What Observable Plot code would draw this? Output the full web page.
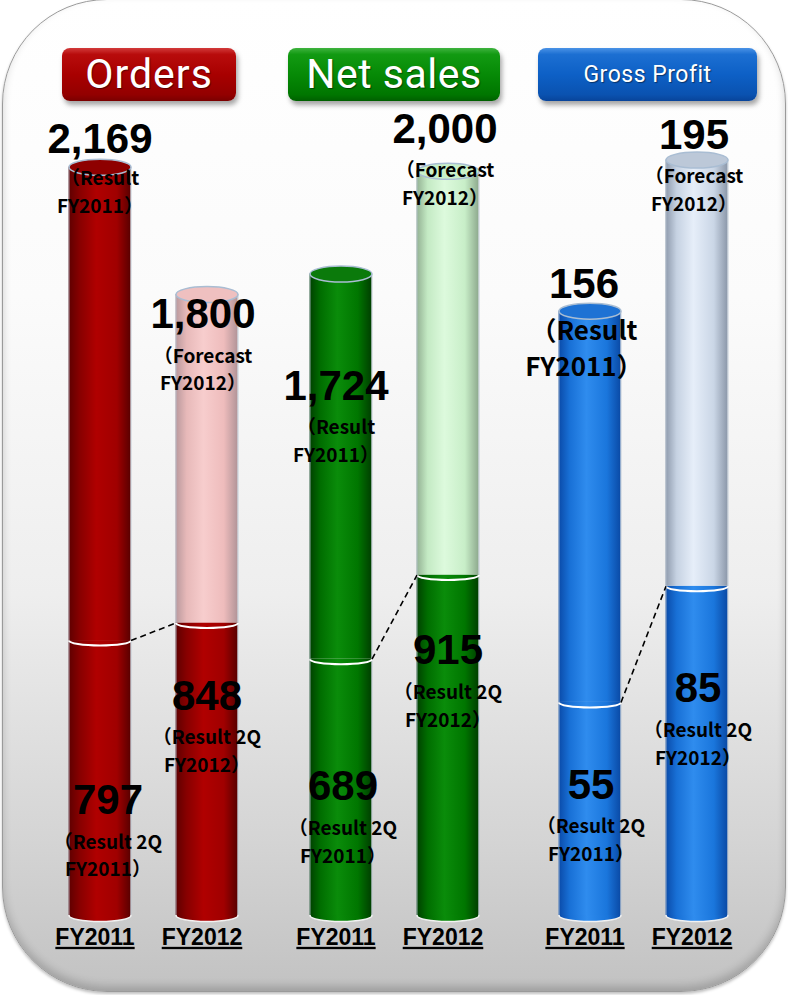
<!DOCTYPE html>
<html>
<head>
<meta charset="utf-8">
<script src="https://cdn.jsdelivr.net/npm/d3@7"></script>
<script src="https://cdn.jsdelivr.net/npm/@observablehq/plot@0.6"></script>
<style>
  html, body { margin: 0; padding: 0; background: #ffffff; }
  #root { position: relative; width: 788px; height: 995px; overflow: hidden; background: #fff; }
  #bg { position: absolute; left: 2px; top: -1px; width: 782px; height: 991px; border-radius: 105px;
        border: 1px solid #9a9a9a;
        background: linear-gradient(to bottom, #ffffff 0%, #fbfbfb 30%, #eeeeee 60%, #d4d4d4 85%, #c2c2c2 100%);
        box-shadow: inset 0 -5px 9px rgba(0,0,0,0.18), 0 2px 3px rgba(0,0,0,0.25); }
  .btn { position: absolute; top: 48px; height: 53px; border-radius: 8px; color: #fff; text-align: center;
         line-height: 53px; box-shadow: 2px 4px 5px rgba(0,0,0,0.35);
         font-family: Roboto, "Liberation Sans Narrow", sans-serif;
         text-shadow: 1px 1px 1px rgba(0,0,0,0.45); }
  .plot { position: absolute; top: 0; }
  svg text { text-spacing-trim: space-all; }
</style>
</head>
<body>
<div id="root">
  <div id="bg"></div>
</div>
<script>
// ---------- data ----------
const panels = ["Orders", "Net sales", "Gross Profit"];
const years = ["FY2011", "FY2012"];
const ordersFull = [2169, 1800];
const ordersHalf = [797, 848];
const salesFull = [1724, 2000];
const salesHalf = [689, 915];
const profitFull = [156, 195];
const profitHalf = [55, 85];
const isForecast = [false, true];
const fullNotes = ["（Result\nFY2011）", "（Forecast\nFY2012）"];
const halfNotes = ["（Result 2Q\nFY2011）", "（Result 2Q\nFY2012）"];

// ---------- layout / style ----------
const root = document.getElementById("root");
const PX_PER_UNIT = 107;          // horizontal spacing between the two cylinders
const HALF_W = 31;                // cylinder radius in px
const hw = HALF_W / PX_PER_UNIT;
const numFont = "'Liberation Sans', Arial, 'Noto Sans CJK JP', sans-serif";
const noteFont = "'Noto Sans CJK JP', 'Liberation Sans', sans-serif";

const buttons = [
  {left: 62, width: 174, size: 41, ls: 1, bg: "linear-gradient(to bottom, #d23a3a 0%, #b80c0c 12%, #a80000 50%, #930000 88%, #7a0000 100%)"},
  {left: 288, width: 212, size: 41, ls: 0.5, bg: "linear-gradient(to bottom, #3fb33f 0%, #129a12 12%, #068a06 50%, #007600 88%, #005f00 100%)"},
  {left: 538, width: 219, size: 23, ls: 0.5, bg: "linear-gradient(to bottom, #4a92e6 0%, #1c6fd2 12%, #0d60c6 50%, #0a52b0 88%, #08449a 100%)"}
];
panels.forEach((p, k) => {
  const b = document.createElement("div");
  b.className = "btn";
  b.textContent = p;
  Object.assign(b.style, {left: buttons[k].left + "px", width: buttons[k].width + "px",
    fontSize: buttons[k].size + "px", letterSpacing: buttons[k].ls + "px", background: buttons[k].bg});
  root.appendChild(b);
});

const palettes = [
  {dark: ["#5e0000", "#870000", "#b00000", "#a00000", "#5a0000"], darkTop: "#8e0000",
   light: ["#b8989c", "#e7b9b9", "#f7cdcd", "#eebcbc", "#b29498"], lightTop: "#efc0c0"},
  {dark: ["#004000", "#006e00", "#0a8c0a", "#007600", "#003f00"], darkTop: "#0b7a0b",
   light: ["#92b092", "#c4eac4", "#ddfadd", "#c8eec8", "#8eaa8e"], lightTop: "#c8f0c8"},
  {dark: ["#0a4aa8", "#1870d6", "#2f8cee", "#1a76dc", "#0a4aa6"], darkTop: "#1e72d4",
   light: ["#8e9aac", "#c6d2e2", "#e6eef9", "#cad6e6", "#8c98aa"], lightTop: "#bcc8d8"}
];

// label offsets (px) relative to the bar top (full) or the 2Q split (half)
const labelLayout = [
  {full: [{n: -28, t: 23, dx: 0, ts: 19}, {n: 20, t: 73, dx: -4, ts: 19}],
   half: [{n: 160, t: 213, dx: 8, ts: 19}, {n: 74, t: 126, dx: 0, ts: 19}]},
  {full: [{n: 113, t: 165, dx: -5, ts: 19}, {n: -42, t: 11, dx: -3, ts: 19}],
   half: [{n: 127, t: 181, dx: 2, ts: 19}, {n: 76, t: 129, dx: 0, ts: 19}]},
  {full: [{n: -27, t: 35, dx: -6, ts: 26}, {n: -25, t: 28, dx: -3, ts: 19}],
   half: [{n: 83, t: 136, dx: 1, ts: 19}, {n: 102, t: 156, dx: 1, ts: 19}]}
];
const panelLeft = [27.5, 268.5, 518];
const yMax = [2319, 2150, 206.5];

function ellipseSym(rx, ry, lowerHalfOnly) {
  const k = 0.5523;
  return {
    draw(c) {
      c.moveTo(-rx, 0);
      c.bezierCurveTo(-rx, ry * k, -rx * k, ry, 0, ry);
      c.bezierCurveTo(rx * k, ry, rx, ry * k, rx, 0);
      if (!lowerHalfOnly) {
        c.bezierCurveTo(rx, -ry * k, rx * k, -ry, 0, -ry);
        c.bezierCurveTo(-rx * k, -ry, -rx, -ry * k, -rx, 0);
        c.closePath();
      }
    }
  };
}

function makePanel(k, full, half) {
  const id = "p" + k;
  const pal = palettes[k];
  const defs = () => {
    const d = d3.create("svg:defs");
    const grad = (gid, cols) => {
      const g = d.append("linearGradient").attr("id", gid).attr("x1", 0).attr("x2", 1).attr("y1", 0).attr("y2", 0);
      const offs = [0, 0.18, 0.45, 0.78, 1];
      cols.forEach((c, i) => g.append("stop").attr("offset", offs[i]).attr("stop-color", c));
    };
    grad(id + "-dark", pal.dark);
    grad(id + "-light", pal.light);
    return d.node();
  };
  const marks = [defs];
  const fmt = d3.format(",");
  [0, 1].forEach(i => {
    const darkUrl = `url(#${id}-dark)`;
    const upperUrl = isForecast[i] ? `url(#${id}-light)` : darkUrl;
    marks.push(Plot.dot([i], {x: d => d, y: () => 0, symbol: ellipseSym(HALF_W, 6), fill: darkUrl,
      stroke: "#f2f2f2", strokeWidth: 1.5}));
    marks.push(Plot.rectY([i], {x1: d => d - hw, x2: d => d + hw, y1: () => 0, y2: d => half[d], fill: darkUrl}));
    marks.push(Plot.rectY([i], {x1: d => d - hw, x2: d => d + hw, y1: d => half[d], y2: d => full[d], fill: upperUrl}));
    marks.push(Plot.ruleX([i - hw, i + hw], {y1: 0, y2: full[i], stroke: "#b7c3d1", strokeWidth: 1, strokeOpacity: 0.8}));
    marks.push(Plot.dot([i], {x: d => d, y: d => full[d], symbol: ellipseSym(HALF_W, 8),
      fill: isForecast[i] ? pal.lightTop : pal.darkTop, stroke: "#a9bdd3", strokeWidth: 1.5}));
    marks.push(Plot.dot([i], {x: d => d, y: d => half[d], symbol: ellipseSym(HALF_W, 5, true),
      fill: "none", stroke: "#ffffff", strokeWidth: 2}));
  });
  marks.push(Plot.link([0], {x1: () => 0 + hw, y1: () => half[0], x2: () => 1 - hw, y2: () => half[1],
    stroke: "#000", strokeWidth: 1.6, strokeDasharray: "6,4"}));
  [0, 1].forEach(i => {
    const L = labelLayout[k];
    const lf = L.full[i], lh = L.half[i];
    marks.push(Plot.text([i], {x: d => d, y: d => full[d], text: d => fmt(full[d]), dy: lf.n, dx: lf.dx,
      fontSize: 42, fontWeight: "bold", fontFamily: numFont, fill: "#000"}));
    marks.push(Plot.text([i], {x: d => d, y: d => full[d], text: d => fullNotes[d], dy: lf.t, dx: lf.dx,
      fontSize: lf.ts, fontWeight: "bold", fontFamily: noteFont, lineAnchor: "middle",
      lineHeight: lf.ts > 20 ? 1.38 : 1.45, fill: "#000"}));
    marks.push(Plot.text([i], {x: d => d, y: d => half[d], text: d => fmt(half[d]), dy: lh.n, dx: lh.dx,
      fontSize: 42, fontWeight: "bold", fontFamily: numFont, fill: "#000"}));
    marks.push(Plot.text([i], {x: d => d, y: d => half[d], text: d => halfNotes[d], dy: lh.t, dx: lh.dx,
      fontSize: 19, fontWeight: "bold", fontFamily: noteFont, lineAnchor: "middle", lineHeight: 1.45, fill: "#000"}));
  });
  marks.push(Plot.axisX({ticks: [0, 1], tickFormat: i => years[i], tickSize: 0, tickPadding: 13,
    fontSize: 23, fontWeight: "bold", fontFamily: numFont, dx: -5}));

  const svg = Plot.plot({
    width: 250, height: 995,
    marginTop: 115, marginBottom: 80, marginLeft: 18, marginRight: 18,
    x: {domain: [-0.5, 1.5], type: "linear"},
    y: {domain: [0, yMax[k]], axis: null},
    style: {background: "transparent", overflow: "visible", maxWidth: "none", color: "#000"},
    marks
  });
  svg.querySelectorAll('[aria-label="x-axis tick label"] text').forEach(t => {
    t.style.textDecoration = "underline";
  });
  svg.classList.add("plot");
  svg.style.position = "absolute";
  svg.style.left = panelLeft[k] + "px";
  svg.style.top = "0px";
  root.appendChild(svg);
}

makePanel(0, ordersFull, ordersHalf);
makePanel(1, salesFull, salesHalf);
makePanel(2, profitFull, profitHalf);
</script>
</body>
</html>
